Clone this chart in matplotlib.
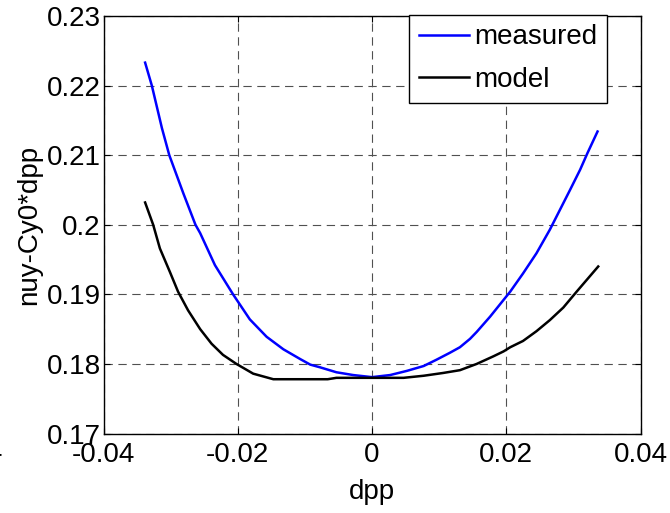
import matplotlib
matplotlib.use("Agg")
import matplotlib.pyplot as plt

plt.rcParams['font.family'] = ['Liberation Sans', 'DejaVu Sans']
plt.rcParams['lines.scale_dashes'] = False

# dpp values and tune for the measured curve
measured_dpp = [-0.0338, -0.0328, -0.0313, -0.0302, -0.0281, -0.0263, -0.0256,
                -0.0234, -0.0207, -0.0182, -0.0157, -0.0132, -0.0107, -0.0092,
                -0.0077, -0.0053, -0.0028, 0.0000, 0.0027, 0.0052, 0.0077,
                0.0096, 0.0116, 0.0131, 0.0146, 0.0156, 0.0176, 0.0196,
                0.0206, 0.0225, 0.0245, 0.0265, 0.0285, 0.0295, 0.0310,
                0.0321, 0.0336]
measured_nuy = [0.2233, 0.2200, 0.2139, 0.2100, 0.2045, 0.2000, 0.1988,
                0.1942, 0.1900, 0.1864, 0.1839, 0.1821, 0.1807, 0.1799,
                0.1795, 0.1788, 0.1784, 0.1781, 0.1784, 0.1790, 0.1797,
                0.1806, 0.1816, 0.1824, 0.1836, 0.1846, 0.1868, 0.1892,
                0.1904, 0.1930, 0.1959, 0.1993, 0.2031, 0.2050, 0.2079,
                0.2103, 0.2134]

# dpp values and tune for the model curve
model_dpp = [-0.0338, -0.0326, -0.0316, -0.0301, -0.0289, -0.0274, -0.0256,
             -0.0239, -0.0222, -0.0202, -0.0177, -0.0147, -0.0066, -0.0053,
             0.0047, 0.0077, 0.0106, 0.0131, 0.0156, 0.0181, 0.0196, 0.0206,
             0.0225, 0.0245, 0.0265, 0.0285, 0.0305, 0.0337]
model_nuy = [0.2032, 0.2000, 0.1966, 0.1932, 0.1904, 0.1877, 0.1850,
             0.1829, 0.1813, 0.1800, 0.1786, 0.1778, 0.1778, 0.1780,
             0.1780, 0.1783, 0.1787, 0.1791, 0.1800, 0.1811, 0.1818, 0.1824,
             0.1833, 0.1847, 0.1863, 0.1881, 0.1904, 0.1940]

x_ticks = [-0.04, -0.02, 0.0, 0.02, 0.04]
x_tick_labels = ["-0.04", "-0.02", "0", "0.02", "0.04"]
y_ticks = [0.17, 0.18, 0.19, 0.20, 0.21, 0.22, 0.23]
y_tick_labels = ["0.17", "0.18", "0.19", "0.2", "0.21", "0.22", "0.23"]

W, H = 670, 513
fig = plt.figure(figsize=(W / 100, H / 100), dpi=100)
ax = fig.add_axes([103.5 / W, 1 - 433.5 / H, (640.5 - 103.5) / W, (433.5 - 16) / H])

ax.plot(measured_dpp, measured_nuy, color="#0000ff", lw=1.8, label="measured", zorder=3)
ax.plot(model_dpp, model_nuy, color="black", lw=1.8, label="model", zorder=3)

ax.set_xlim(-0.04, 0.04)
ax.set_ylim(0.17, 0.23)
ax.set_xticks(x_ticks)
ax.set_xticklabels(x_tick_labels)
ax.set_yticks(y_ticks)
ax.set_yticklabels(y_tick_labels)

ax.grid(True, color="#505050", lw=0.8, linestyle=(0, (6.0, 4.0)), zorder=1)
ax.set_axisbelow(True)
ax.tick_params(direction="in", length=4, width=0.8, top=True, right=True,
               labelsize=20, colors="black")
ax.tick_params(axis="x", pad=6)
ax.tick_params(axis="y", pad=2)
for s in ax.spines.values():
    s.set_linewidth(1.0)
    s.set_color("black")

ax.set_xlabel("dpp", fontsize=20, labelpad=8)
ax.set_ylabel("nuy-Cy0*dpp", fontsize=20, labelpad=3)

leg = ax.legend(loc="upper left", bbox_to_anchor=(409 / W, 1 - 14.5 / H),
                bbox_transform=fig.transFigure, borderaxespad=0,
                fontsize=20, handlelength=1.8, handletextpad=0.2,
                borderpad=0.35, labelspacing=0.6, fancybox=False,
                framealpha=1, edgecolor="black")
leg.get_frame().set_linewidth(1.0)
leg.set_zorder(5)

# partial label at the far left edge
fig.text(3 / W, 1 - 453 / H, "-0.04", fontsize=20, ha="right", va="center")

fig.savefig("out.png", dpi=100)
